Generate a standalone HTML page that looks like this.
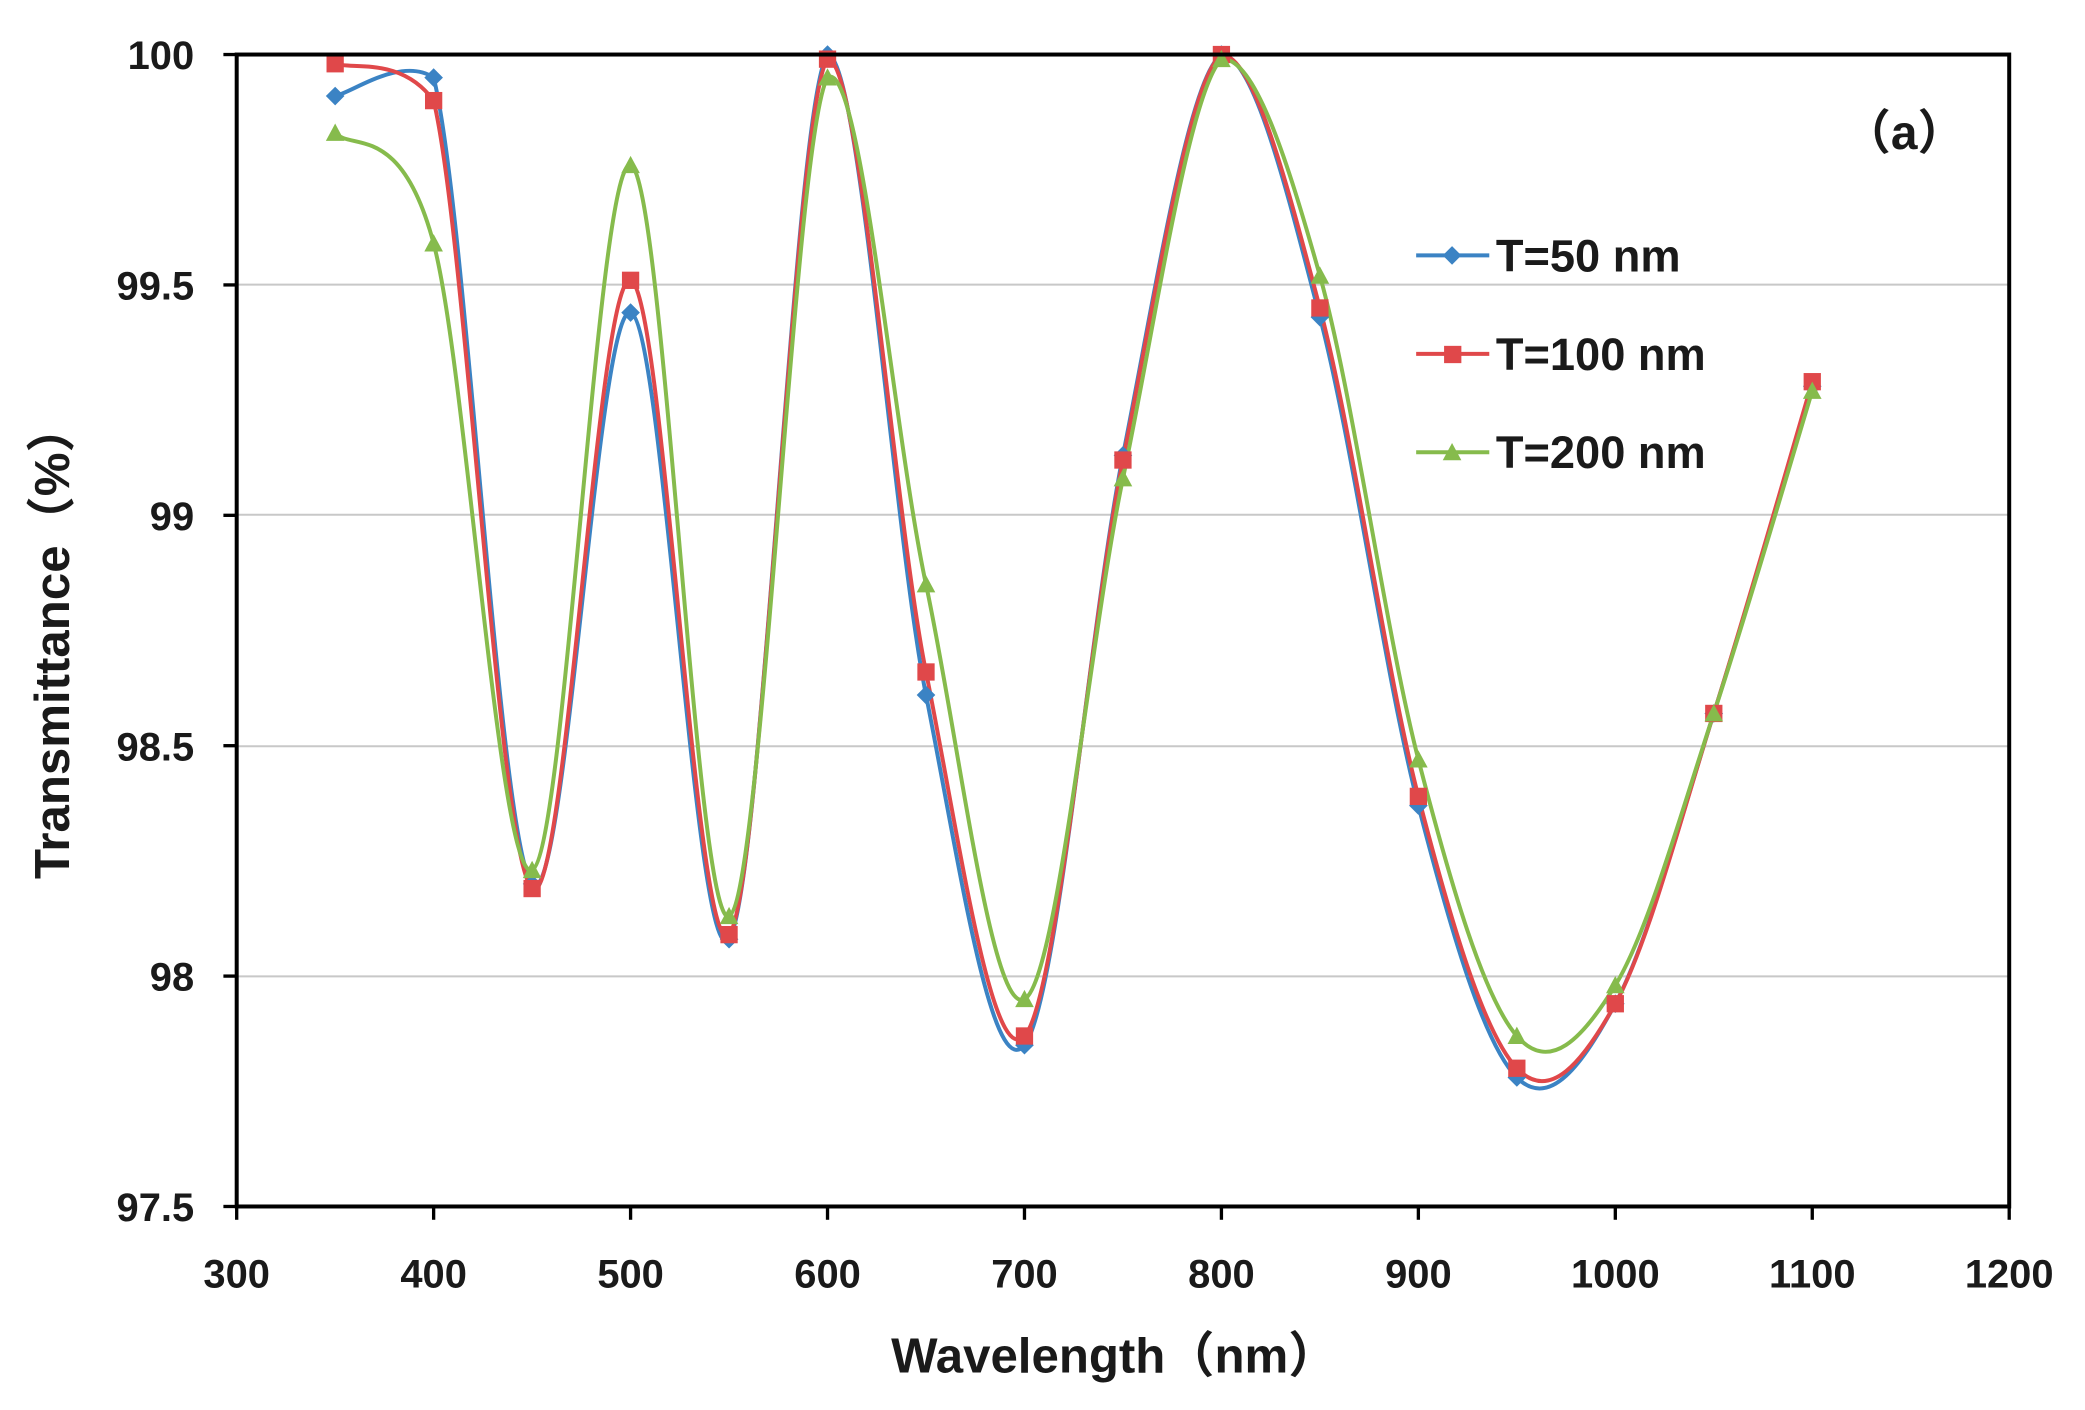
<!DOCTYPE html>
<html><head><meta charset="utf-8"><style>
html,body{margin:0;padding:0;background:#fff;}
svg{display:block;}
text{font-family:"Liberation Sans","Noto Sans CJK SC",sans-serif;font-weight:bold;fill:#1a1a1a;}
</style></head><body>
<svg id="s" width="2085" height="1410" viewBox="0 0 1568 1060" preserveAspectRatio="none" xmlns="http://www.w3.org/2000/svg">
<rect width="1600" height="1100" fill="#fff"/>
<g stroke="#c8c8c8" stroke-width="1.5">
<line x1="178" x2="1511" y1="214" y2="214"/>
<line x1="178" x2="1511" y1="387" y2="387"/>
<line x1="178" x2="1511" y1="561" y2="561"/>
<line x1="178" x2="1511" y1="734" y2="734"/>
</g>
<g id="series"></g>
<rect x="178" y="41" width="1333" height="866" fill="none" stroke="#000" stroke-width="3"/>
<g id="ticks" stroke="#000" stroke-width="2.5"></g>
<g font-size="30" text-anchor="end" id="ylab"></g>
<g font-size="30" text-anchor="middle" id="xlab"></g>
<text x="838" y="1032" font-size="37" text-anchor="middle">Wavelength（nm）</text>
<text transform="translate(52,482) rotate(-90)" font-size="37" text-anchor="middle">Transmittance（%）</text>
<text x="1432" y="112" font-size="36" text-anchor="middle" font-weight="normal">（<tspan font-weight="bold">a</tspan>）</text>
<g font-size="34">
<line x1="1065" x2="1120" y1="192" y2="192" stroke="#3b83c4" stroke-width="3"/>
<path d="M1092 185 L1099 192 L1092 199 L1085 192Z" fill="#3b83c4"/>
<text x="1125" y="204">T=50 nm</text>
<line x1="1065" x2="1120" y1="266" y2="266" stroke="#e0484a" stroke-width="3"/>
<rect x="1086" y="260" width="13" height="13" fill="#e0484a"/>
<text x="1125" y="278">T=100 nm</text>
<line x1="1065" x2="1120" y1="340" y2="340" stroke="#86bb4c" stroke-width="3"/>
<path d="M1092 333 L1099 346 L1085 346Z" fill="#86bb4c"/>
<text x="1125" y="352">T=200 nm</text>
</g>
</svg>
<script>
(function(){
const X=v=>178+(v-300)*1333/900, Y=v=>41+(100-v)*866/2.5;
const xs=[350,400,450,500,550,600,650,700,750,800,850,900,950,1000,1050,1100];
const data=[
 ["#3b83c4","d",[99.91,99.95,98.20,99.44,98.08,100,98.61,97.85,99.13,100,99.43,98.37,97.78,97.94,98.57,99.28]],
 ["#e0484a","s",[99.98,99.90,98.19,99.51,98.09,99.99,98.66,97.87,99.12,100,99.45,98.39,97.80,97.94,98.57,99.29]],
 ["#86bb4c","t",[99.83,99.59,98.23,99.76,98.13,99.95,98.85,97.95,99.08,99.99,99.52,98.47,97.87,97.98,98.57,99.27]]];
const g=document.getElementById("series");
let marks="", html="";
const ytop=Y(100)+1;
for(const [c,m,ys] of data){
 const p=xs.map((x,i)=>[X(x),Y(ys[i])]);
 let d="M"+p[0][0]+" "+p[0][1];
 for(let i=0;i<p.length-1;i++){
  const p0=p[i-1]||p[i],p1=p[i],p2=p[i+1],p3=p[i+2]||p[i+1];
  const k=1/6;
  const c1y=Math.max(ytop,p1[1]+(p2[1]-p0[1])*k), c2y=Math.max(ytop,p2[1]-(p3[1]-p1[1])*k);
  d+=` C${p1[0]+(p2[0]-p0[0])*k} ${c1y} ${p2[0]-(p3[0]-p1[0])*k} ${c2y} ${p2[0]} ${p2[1]}`;
 }
 html+=`<path d="${d}" fill="none" stroke="${c}" stroke-width="3"/>`;
 for(const [x,y] of p){
  if(m=="d") marks+=`<path d="M${x} ${y-7} L${x+7} ${y} L${x} ${y+7} L${x-7} ${y}Z" fill="${c}"/>`;
  if(m=="s") marks+=`<rect x="${x-6.5}" y="${y-6.5}" width="13" height="13" fill="${c}"/>`;
  if(m=="t") marks+=`<path d="M${x} ${y-7} L${x+7} ${y+6} L${x-7} ${y+6}Z" fill="${c}"/>`;
 }
}
g.innerHTML=html+marks;
let t="",yl="",xl="";
for(let v=300;v<=1200;v+=100){t+=`<line x1="${X(v)}" x2="${X(v)}" y1="907" y2="917"/>`;xl+=`<text x="${X(v)}" y="968">${v}</text>`;}
[100,99.5,99,98.5,98,97.5].forEach(v=>{t+=`<line x1="168" x2="178" y1="${Y(v)}" y2="${Y(v)}"/>`;yl+=`<text x="146" y="${Y(v)+11}">${v}</text>`;});
document.getElementById("ticks").innerHTML=t;
document.getElementById("ylab").innerHTML=yl;
document.getElementById("xlab").innerHTML=xl;
})();
</script>
</body></html>
